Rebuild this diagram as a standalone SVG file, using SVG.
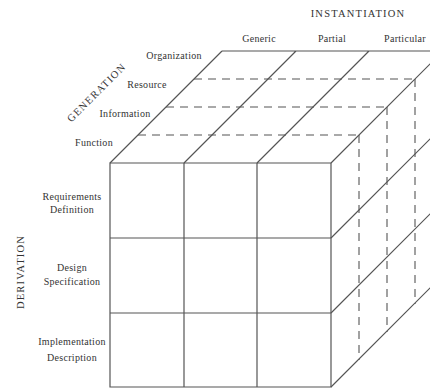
<svg xmlns="http://www.w3.org/2000/svg" width="430" height="390" viewBox="0 0 430 390">
<style>
.s{stroke:#555;stroke-width:1.2;fill:none}
.d{stroke:#555;stroke-width:1.1;fill:none;stroke-dasharray:8 6}
text{font-family:"Liberation Serif","Times New Roman",serif;font-size:10px;fill:#333;text-anchor:middle;letter-spacing:0.3px}
.h{font-size:10.5px;letter-spacing:1.2px}
</style>
<rect width="430" height="390" fill="#fff"/>
<g id="connectors">
<path class="d" d="M138,135 H359 M166,107 H387 M194,79 H415"/>
<path class="d" d="M359,135 V360 M387,107 V332 M415,79 V304"/>
<path class="s" d="M110,163 L222,51 M184,163 L296,51 M257,163 L369,51 M331,163 L443,51 M222,51 H430"/>
<path class="s" d="M331,238 L443,126 M331,313 L443,201 M331,387 L443,275"/>
<path class="s" d="M110,163 H331 V387 H110 Z M184,163 V387 M257,163 V387 M110,238 H331 M110,313 H331"/>
</g>
<g id="instantiation"><text class="h" x="358" y="17">INSTANTIATION</text></g>
<g id="generic"><text x="259" y="42">Generic</text></g>
<g id="partial"><text x="332" y="42">Partial</text></g>
<g id="particular"><text x="405" y="42">Particular</text></g>
<g id="generation"><text class="h" transform="translate(99,95) rotate(-45)">GENERATION</text></g>
<g id="organization"><text x="174" y="59">Organization</text></g>
<g id="resource"><text x="147" y="88">Resource</text></g>
<g id="information"><text x="125" y="117">Information</text></g>
<g id="function"><text x="94" y="146">Function</text></g>
<g id="derivation"><text class="h" transform="translate(24,272) rotate(-90)">DERIVATION</text></g>
<g id="requirements"><text x="72" y="200">Requirements</text><text x="72" y="213">Definition</text></g>
<g id="design"><text x="72" y="271">Design</text><text x="72" y="285">Specification</text></g>
<g id="implementation"><text x="72" y="345">Implementation</text><text x="72" y="361">Description</text></g>
</svg>
